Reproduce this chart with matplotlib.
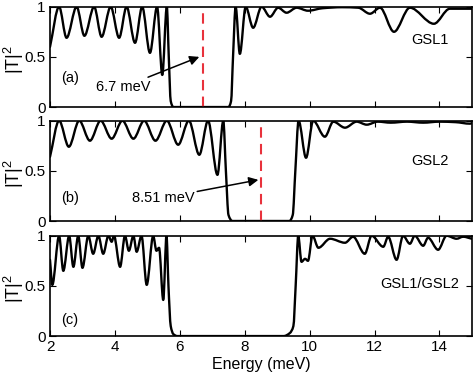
import numpy as np
import matplotlib
matplotlib.use('Agg')
import matplotlib.pyplot as plt
from matplotlib.path import Path
from matplotlib.patches import PathPatch

plt.rcParams['font.family'] = ['Liberation Sans', 'DejaVu Sans']
plt.rcParams['mathtext.default'] = 'regular'

# transmission |T|^2 (peaks / valleys / edges)
e_gsl1 = [2.0, 2.28, 2.51, 2.82, 3.06, 3.36, 3.59, 3.87, 4.13, 4.36, 4.62, 4.84,
          5.08, 5.30, 5.46, 5.60, 5.66, 5.72, 5.80, 7.50, 7.58, 7.64, 7.72, 7.85,
          8.03, 8.26, 8.52, 8.78, 9.03, 9.29, 9.60, 9.95, 10.4, 11.0, 11.5, 11.86,
          12.17, 12.60, 13.09, 13.83, 14.32, 15.0]
t_gsl1 = [0.60, 1.0, 0.69, 1.0, 0.71, 1.0, 0.70, 1.0, 0.69, 1.0, 0.64, 1.0,
          0.54, 1.0, 0.32, 1.0, 0.5, 0.06, 0.0, 0.0, 0.06, 0.5, 1.0, 0.53,
          1.0, 0.79, 1.0, 0.90, 0.99, 0.94, 0.99, 0.96, 0.985, 0.995, 0.99, 0.93,
          0.99, 0.75, 0.99, 0.83, 0.98, 0.98]

e_gsl2 = [2.0, 2.28, 2.58, 2.90, 3.23, 3.56, 3.90, 4.23, 4.57, 4.90, 5.25, 5.60,
          5.95, 6.28, 6.60, 6.87, 7.16, 7.34, 7.42, 7.50, 7.62, 9.38, 9.48, 9.56,
          9.66, 9.89, 10.11, 10.47, 10.73, 11.09, 11.45, 11.76, 12.1, 12.5, 13.0,
          13.5, 14.0, 14.5, 14.94, 15.0]
t_gsl2 = [0.64, 1.0, 0.74, 1.0, 0.80, 1.0, 0.82, 1.0, 0.82, 1.0, 0.80, 1.0,
          0.76, 1.0, 0.66, 1.0, 0.46, 1.0, 0.5, 0.06, 0.0, 0.0, 0.06, 0.5,
          1.0, 0.63, 1.0, 0.84, 0.99, 0.93, 0.99, 0.96, 0.99, 0.98, 0.99,
          0.98, 0.99, 0.985, 0.97, 0.975]

e_both = [2.0, 2.07, 2.28, 2.41, 2.59, 2.72, 2.87, 3.00, 3.18, 3.33, 3.49, 3.64,
          3.80, 3.90, 3.97, 4.16, 4.31, 4.43, 4.57, 4.67, 4.82, 4.98, 5.18, 5.28,
          5.36, 5.49, 5.59, 5.65, 5.72, 5.80, 5.92, 9.20, 9.39, 9.50, 9.57, 9.65,
          9.75, 9.86, 9.95, 10.09, 10.27, 10.63, 11.09, 11.34, 11.70, 11.91, 12.27,
          12.42, 12.68, 12.88, 13.09, 13.24, 13.50, 13.65, 13.96, 14.22, 14.53,
          14.73, 15.0]
t_both = [0.76, 0.51, 1.0, 0.65, 1.0, 0.69, 1.0, 0.68, 1.0, 0.82, 1.0, 0.82,
          1.0, 0.94, 1.0, 0.69, 1.0, 0.85, 1.0, 0.84, 1.0, 0.51, 1.0, 0.85,
          0.88, 0.36, 1.0, 0.5, 0.1, 0.02, 0.0, 0.0, 0.03, 0.10, 0.5, 1.0,
          0.74, 0.77, 0.75, 1.0, 0.88, 0.97, 0.93, 0.99, 0.82, 1.0, 0.89,
          0.99, 0.76, 1.0, 0.92, 1.0, 0.90, 0.98, 0.86, 1.0, 0.97,
          0.99, 0.97]

panel_tags = ['(a)', '(b)', '(c)']
panel_names = ['GSL1', 'GSL2', 'GSL1/GSL2']
marker_e = [6.7, 8.51]
marker_txt = ['6.7 meV', '8.51 meV']


def smooth_path(x, y):
    # monotone cubic (Fritsch-Carlson) tangents -> bezier segments
    x = np.asarray(x, float)
    y = np.asarray(y, float)
    h = np.diff(x)
    d = np.diff(y) / h
    m = np.zeros_like(y)
    m[0], m[-1] = d[0], d[-1]
    for k in range(1, len(x) - 1):
        if d[k - 1] * d[k] > 0:
            w1 = 2 * h[k] + h[k - 1]
            w2 = h[k] + 2 * h[k - 1]
            m[k] = (w1 + w2) / (w1 / d[k - 1] + w2 / d[k])
    verts = [(x[0], y[0])]
    codes = [Path.MOVETO]
    for k in range(len(x) - 1):
        verts += [(x[k] + h[k] / 3, y[k] + m[k] * h[k] / 3),
                  (x[k + 1] - h[k] / 3, y[k + 1] - m[k + 1] * h[k] / 3),
                  (x[k + 1], y[k + 1])]
        codes += [Path.CURVE4] * 3
    return Path(verts, codes)


fig = plt.figure(figsize=(4.74, 3.73), dpi=100)
bottoms = [0.713, 0.4075, 0.099]
series = [(e_gsl1, t_gsl1), (e_gsl2, t_gsl2), (e_both, t_both)]
axes = []
for i in range(3):
    ax = fig.add_axes([0.1055, bottoms[i], 0.890, 0.269])
    e, t = series[i]
    ax.add_patch(PathPatch(smooth_path(e, t), fill=False, lw=1.7, color='black',
                           capstyle='round', joinstyle='round'))
    ax.set_xlim(2, 15)
    ax.set_ylim(0, 1)
    ax.set_xticks(range(2, 15, 2))
    ax.set_yticks([0, 0.5, 1])
    ax.set_yticklabels(['0', '0.5', '1'])
    ax.tick_params(direction='in', top=True, right=True, length=4, width=0.8,
                   labelsize=11, pad=3)
    if i < 2:
        ax.set_xticklabels([])
    for s in ax.spines.values():
        s.set_linewidth(1.2)
    ax.set_ylabel('|T|$^2$', fontsize=13, va='center')
    ax.yaxis.set_label_coords(-0.085, 0.47)
    ax.text(2.62, [0.29, 0.23, 0.16][i], panel_tags[i], fontsize=10.5,
            ha='center', va='center')
    ax.text([13.7, 13.7, 13.4][i], [0.67, 0.60, 0.52][i], panel_names[i],
            fontsize=10.5, ha='center', va='center')
    axes.append(ax)

axes[2].set_xlabel('Energy (meV)', fontsize=11.5, labelpad=2)

for i in range(2):
    ax = axes[i]
    ax.plot([marker_e[i], marker_e[i]], [0, 1], color='#e8323c', lw=1.5,
            dashes=(5, 3), zorder=1)
axes[0].annotate(marker_txt[0], xy=(6.6, 0.50), xytext=(5.10, 0.20),
                 fontsize=10.5, ha='right', va='center',
                 arrowprops=dict(arrowstyle='-|>', color='black', lw=1.1,
                                 mutation_scale=14, shrinkA=0, shrinkB=0))
axes[1].annotate(marker_txt[1], xy=(8.42, 0.41), xytext=(6.45, 0.23),
                 fontsize=10.5, ha='right', va='center',
                 arrowprops=dict(arrowstyle='-|>', color='black', lw=1.1,
                                 mutation_scale=14, shrinkA=0, shrinkB=0))

fig.savefig('out.png', dpi=100)
